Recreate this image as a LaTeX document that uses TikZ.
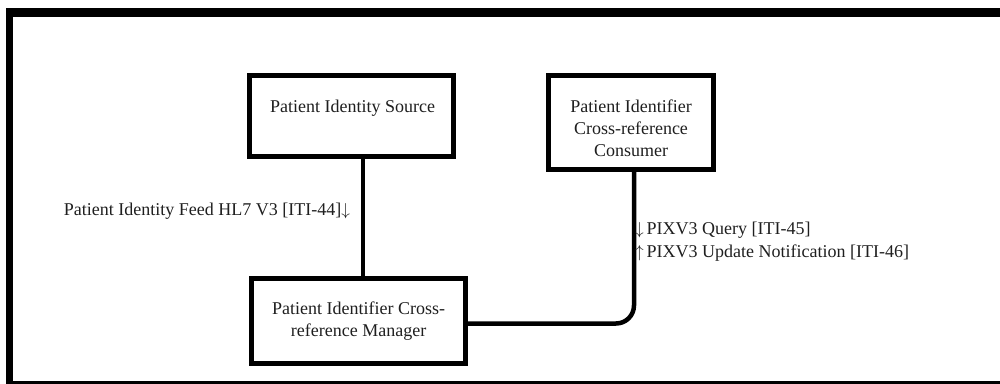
\documentclass[tikz,border=0pt]{standalone}
\usepackage{fontspec}
\setmainfont{Liberation Serif}
\newcommand{\dnarrow}{\(\downarrow\)}
\newcommand{\uparr}{\(\uparrow\)}
\begin{document}
\begin{tikzpicture}[x=1pt,y=-1pt,
  actor/.style={draw=black, line width=5pt, inner sep=0pt, outer sep=0pt,
    align=center, text=black!88, font=\fontsize{18}{22}\selectfont},
  txt/.style={inner sep=0pt, outer sep=0pt, text=black!88,
    font=\fontsize{18}{22}\selectfont},
  conn/.style={draw=black, line width=4.5pt},
  frameline/.style={draw=black}]
\useasboundingbox (0,0) rectangle (1000,383);

% surrounding frame: heavy top rule, left and bottom rules
\draw[frameline, line width=9pt] (6,12.7) -- (1010,12.7);
\draw[frameline, line width=7pt] (9.7,8.2) -- (9.7,390);
\draw[frameline, line width=6pt] (6,383.5) -- (1010,383.5);

% actors
\node[actor, minimum width=203.7pt, minimum height=80.7pt] (src) at (351.6,116.1) {};
\node[txt] (srcT) at (352.5,108.3) {Patient Identity Source};
\node[actor, minimum width=165.5pt, minimum height=93.2pt] (cons) at (630.8,122.4) {};
\node[txt, align=center] (consT) at (631,128) {Patient Identifier\\Cross-reference\\Consumer};
\node[actor, minimum width=214.3pt, minimum height=85.2pt] (mgr) at (358.6,321.1)
  {Patient Identifier Cross-\\reference Manager};

% connector bends
\coordinate (feedX) at (363,0);
\coordinate (qBend) at (634,323.5);

% transactions
\draw[conn] (src.south -| feedX) -- (mgr.north -| feedX);
\draw[conn, rounded corners=18pt] (mgr.east |- qBend) -- (qBend) -- (cons.south -| qBend);

% transaction labels
\node[txt, anchor=east] (feedL) at (350,211) {Patient Identity Feed HL7 V3 [ITI-44]\dnarrow};
\node[txt, anchor=west] (queryL) at (635,230) {\dnarrow\,PIXV3 Query [ITI-45]};
\node[txt, anchor=west] (notifL) at (635,253) {\uparr\,PIXV3 Update Notification [ITI-46]};
\end{tikzpicture}
\end{document}
